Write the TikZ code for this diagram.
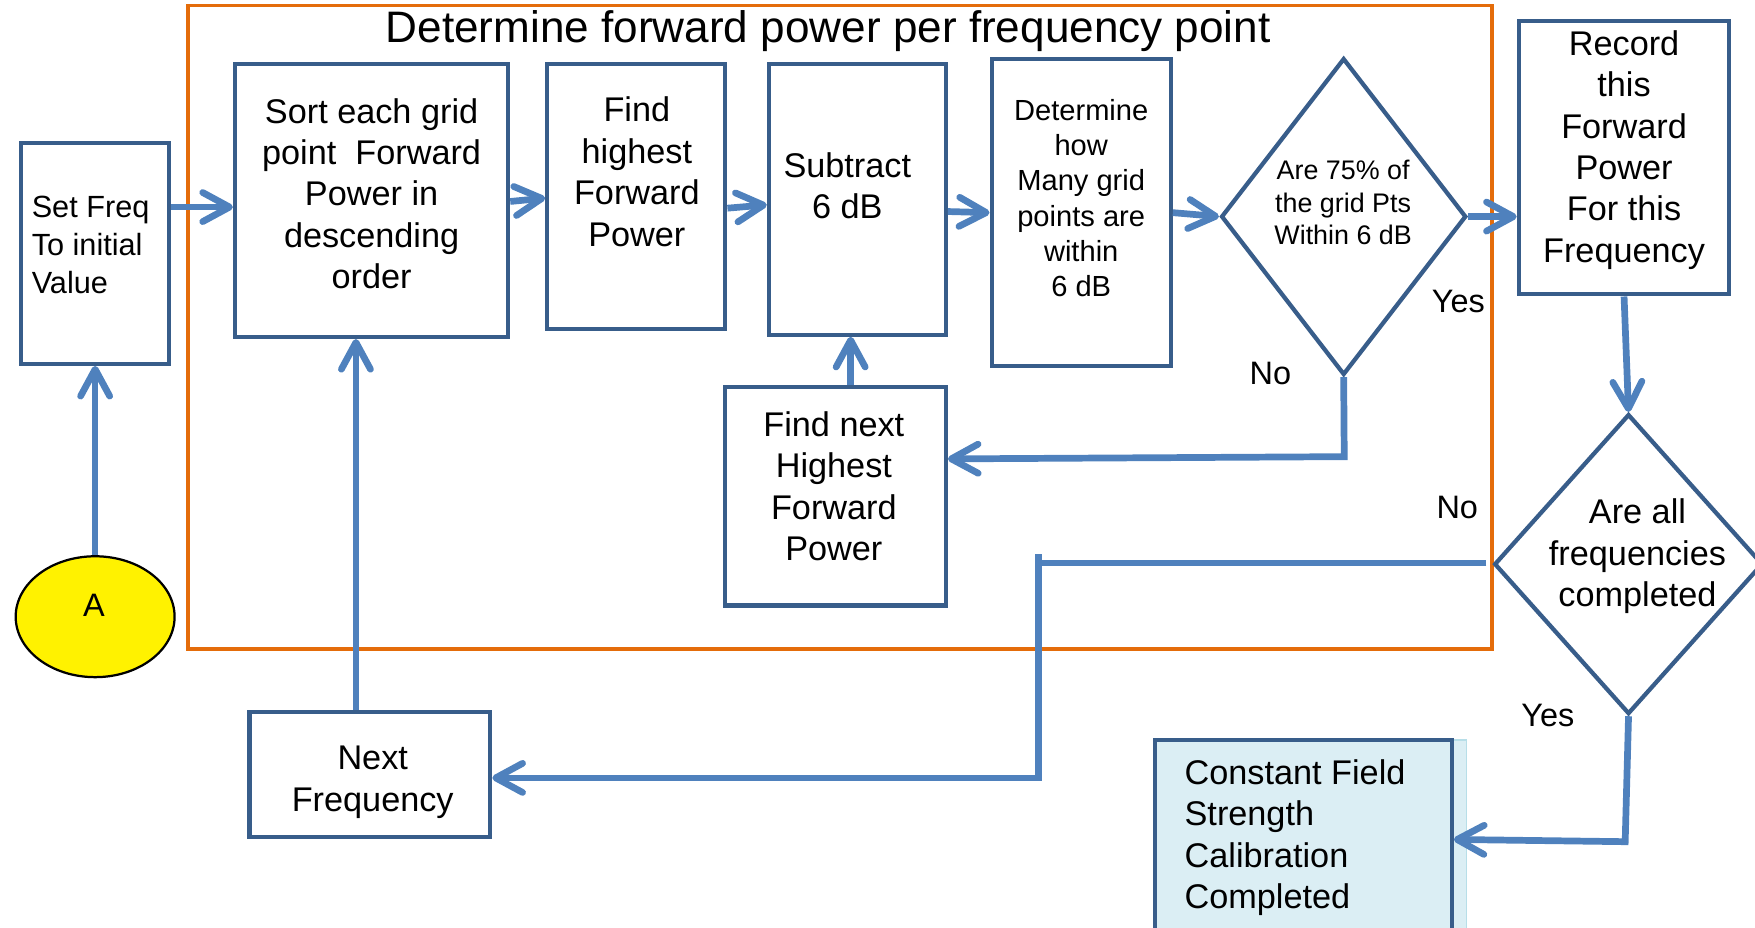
\documentclass[tikz,border=0pt]{standalone}
\usepackage{fontspec}
\setmainfont{Liberation Sans}
\usetikzlibrary{arrows.meta,shapes.geometric,fit}
\definecolor{boxblue}{HTML}{385D8A}
\definecolor{arrblue}{HTML}{4F81BD}
\definecolor{frameorange}{HTML}{E46C0A}
\definecolor{finalfill}{HTML}{DBEEF4}
\definecolor{finaledge}{HTML}{B7DEE8}
\begin{document}
\begin{tikzpicture}[x=0.5pt,y=-0.5pt,
  box/.style={draw=boxblue,line width=1.9pt,inner sep=0pt,fill=white},
  dia/.style={diamond,draw=boxblue,line width=1.9pt,inner sep=0pt,aspect=1,fill=white},
  arr/.style={draw=arrblue,line width=3pt,-{Straight Barb[length=12pt,width=13pt,round]}},
  conn/.style={draw=arrblue,line width=3pt},
  t/.style={inner sep=0pt,align=center,font=\fontsize{15.3}{18.5}\selectfont},
  tl/.style={inner sep=0pt,align=left,anchor=west,font=\fontsize{15.3}{18.5}\selectfont},
  lab/.style={inner sep=0pt,font=\fontsize{14.5}{17}\selectfont}]
\useasboundingbox (0,0) rectangle (1568,829);
\clip (0,0) rectangle (1568,829);
% frame
\draw[frameorange,line width=1.6pt] (168,5) rectangle (1333,580);
\node[inner sep=0pt,font=\fontsize{19.7}{23}\selectfont] (title) at (740,28) {Determine forward power per frequency point};
% boxes
\node[box,fit={(19,128) (151,325)}] (setfreq) {};
\node[box,fit={(210,57) (454,301)}] (sort) {};
\node[box,fit={(489,57) (648,294)}] (findhi) {};
\node[box,fit={(687,57) (845,299)}] (sub) {};
\node[box,fit={(886,53) (1046,327)}] (det) {};
\node[dia,minimum width=109.5pt,minimum height=141.5pt] (d1) at (1200.5,193.5) {};
\node[box,fit={(1357,19) (1545,263)}] (rec) {};
\node[dia,minimum width=120pt,minimum height=134pt] (d2) at (1455,504) {};
\node[box,fit={(648,346) (845,541)}] (fnext) {};
\node[box,fit={(223,636) (438,748)}] (nextf) {};
\fill[finalfill,draw=finaledge,line width=0.6pt] (1032,661) rectangle (1310,850);
\node[draw=boxblue,line width=1.9pt,inner sep=0pt,fit={(1032,661) (1297,850)}] (final) {};
\node[ellipse,draw=black,line width=1pt,fill=yellow,inner sep=0pt,minimum width=71pt,minimum height=54pt] (A) at (85,551) {};
% texts
\node[tl,font=\fontsize{13.7}{17}\selectfont] (tsetfreq) at (28,219) {Set Freq\\To initial\\Value};
\node[t] (tsort) at (332,173) {Sort each grid\\point\ \ Forward\\Power in\\descending\\order};
\node[t] (tfindhi) at (569,153.5) {Find\\highest\\Forward\\Power};
\node[t] (tsub) at (757,166) {Subtract\\6 dB};
\node[t,font=\fontsize{13}{15.8}\selectfont] (tdet) at (966,177) {Determine\\how\\Many grid\\points are\\within\\6 dB};
\node[t,font=\fontsize{12}{14.5}\selectfont] (td1) at (1200,181) {Are 75\% of\\the grid Pts\\Within 6 dB};
\node[t] (trec) at (1451,134) {Record\\this\\Forward\\Power\\For this\\Frequency};
\node[t] (td2) at (1463,497) {Are all\\frequencies\\completed};
\node[t] (tfnext) at (745,434.5) {Find next\\Highest\\Forward\\Power};
\node[t] (tnextf) at (333,699) {Next\\Frequency};
\node[tl] (tfinal) at (1058,748.5) {Constant Field\\Strength\\Calibration\\Completed};
\node[lab] (tA) at (84,541) {A};
\node[lab] (yes1) at (1303,269) {Yes};
\node[lab] (no1) at (1135,334) {No};
\node[lab] (no2) at (1302,453) {No};
\node[lab] (yes2) at (1383,639) {Yes};
% connectors
\draw[arr] (setfreq.east |- 0,185) -- (sort.west |- 0,185);
\draw[arr] (sort.east |- 0,180) -- (findhi.west |- 0,177);
\draw[arr] (findhi.east |- 0,186) -- (sub.west |- 0,183);
\draw[arr] (sub.east |- 0,189) -- (det.west |- 0,190);
\draw[arr] (det.east |- 0,190) -- (d1.west);
\draw[arr] (d1.east) -- (rec.west |- d1.east);
\draw[arr] (d1.south) -- (1201,408) -- (fnext.east |- 0,410);
\draw[arr] (fnext.north -| 760,0) -- (sub.south -| 760,0);
\draw[arr] (rec.south) -- (d2.north);
\draw[arr] (1328,503) -- (928,503) -- (928,695) -- (nextf.east |- 0,695);
\draw[conn] (928,495) -- (928,505);
\draw[arr] (nextf.north -| 318,0) -- (sort.south -| 318,0);
\draw[arr] (A.north) -- (setfreq.south -| A.north);
\draw[arr] (d2.south) -- (1452,752) -- (final.east |- 0,750);
\end{tikzpicture}
\end{document}
